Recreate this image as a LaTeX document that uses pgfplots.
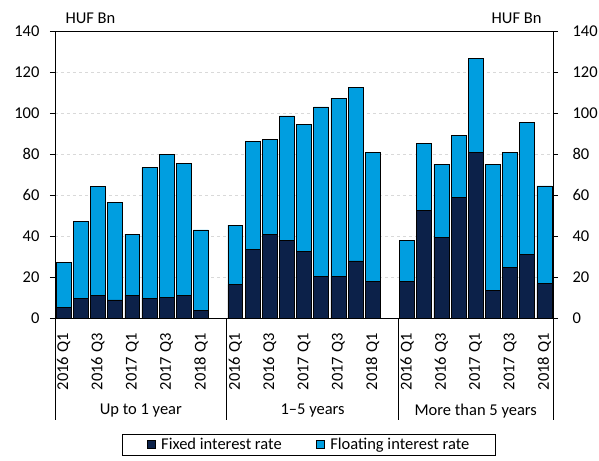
\documentclass[border=0pt]{standalone}
\usepackage{pgfplots}
\usepackage{pgfplotstable}
\pgfplotsset{compat=1.18}
\usepackage{fontspec}
\setmainfont{Carlito}

\definecolor{fixedc}{HTML}{0C2149}
\definecolor{floatc}{HTML}{009EE0}
\definecolor{gridc}{HTML}{D9D9D9}
\newcommand{\lblfont}{\fontsize{16.5}{19}\selectfont}

% Outstanding amounts by remaining maturity, HUF Bn (positions 9 and 19 separate the groups)
\pgfplotstableread{
x  fixed floating
0  5.0  22.0
1  9.7  37.3
2  11.2 52.9
3  8.8  47.5
4  11.2 29.7
5  9.7  63.6
6  10.0 70.0
7  11.2 64.1
8  3.6  39.4
10 16.4 28.9
11 33.6 52.7
12 40.6 46.5
13 38.0 60.6
14 32.3 62.0
15 20.4 82.6
16 20.4 86.7
17 27.9 84.7
18 18.0 62.6
20 17.8 20.0
21 52.6 32.4
22 39.4 35.7
23 58.9 30.2
24 80.8 45.8
25 13.6 61.5
26 24.8 56.0
27 31.2 64.2
28 16.7 47.7
}\datatable

\begin{document}
\begin{tikzpicture}
\path[use as bounding box] (-55pt,-142pt) rectangle (544pt,318pt);
\begin{axis}[
  at={(0,0)}, anchor=south west,
  scale only axis, width=498pt, height=287pt,
  xmin=-0.5, xmax=28.5, ymin=0, ymax=140,
  ybar stacked, bar width=0.87,
  /pgf/number format/assume math mode=true,
  ytick={0,20,...,140},
  ymajorgrids, grid style={gridc, dashed, line width=0.8pt},
  axis line style={black, line width=0.8pt},
  ytick pos=left, tick align=outside, major tick length=5pt,
  y tick style={black, line width=0.8pt},
  yticklabel style={xshift=-7pt},
  xtick={0,2,4,6,8,10,12,14,16,18,20,22,24,26,28},
  xticklabels={2016 Q1,2016 Q3,2017 Q1,2017 Q3,2018 Q1,
               2016 Q1,2016 Q3,2017 Q1,2017 Q3,2018 Q1,
               2016 Q1,2016 Q3,2017 Q1,2017 Q3,2018 Q1},
  x tick style={draw=none},
  xticklabel style={rotate=90, anchor=east},
  xticklabel shift=7pt,
  tick label style={font=\lblfont, text=black},
  clip=false,
  legend columns=2,
  legend style={at={(0.51,-0.403)}, anchor=north, draw=black, line width=0.8pt,
    font=\lblfont, inner xsep=24pt, inner ysep=2pt,
    /tikz/every odd column/.append style={column sep=4pt},
    /tikz/every even column/.append style={column sep=32pt}},
  legend image code/.code={\draw[#1, draw=black, line width=0.6pt] (0pt,-4pt) rectangle (8pt,4pt);},
]
\addplot[fill=fixedc, draw=black, line width=0.6pt] table[x=x, y=fixed] {\datatable};
\addlegendentry{Fixed interest rate}
\addplot[fill=floatc, draw=black, line width=0.6pt] table[x=x, y=floating] {\datatable};
\addlegendentry{Floating interest rate}

% group separators below the axis
\draw[black, line width=0.8pt] (axis cs:-0.5,0) -- ++(0pt,-102pt);
\draw[black, line width=0.8pt] (axis cs:9.5,0) -- ++(0pt,-102pt);
\draw[black, line width=0.8pt] (axis cs:19.5,0) -- ++(0pt,-102pt);
\draw[black, line width=0.8pt] (axis cs:28.5,0) -- ++(0pt,-102pt);
\node[font=\lblfont] at (axis cs:4.5,0) [yshift=-93pt] {Up to 1 year};
\node[font=\lblfont] at (axis cs:14.5,0) [yshift=-93pt] {1–5 years};
\node[font=\lblfont] at (axis cs:24,0) [yshift=-93pt] {More than 5 years};
\node[font=\lblfont, anchor=base west] at (rel axis cs:0,1) [xshift=7pt, yshift=7pt] {HUF Bn};
\node[font=\lblfont, anchor=base east] at (rel axis cs:1,1) [xshift=-8pt, yshift=7pt] {HUF Bn};
\end{axis}
\begin{axis}[
  at={(0,0)}, anchor=south west,
  scale only axis, width=498pt, height=287pt,
  xmin=-0.5, xmax=28.5, ymin=0, ymax=140,
  hide x axis,
  axis y line*=right,
  /pgf/number format/assume math mode=true,
  ytick={0,20,...,140},
  axis line style={black, line width=0.8pt},
  tick align=outside, major tick length=5pt,
  y tick style={black, line width=0.8pt},
  yticklabel style={xshift=11pt},
  tick label style={font=\lblfont, text=black},
]
\addplot[draw=none] coordinates {(0,0)};
\end{axis}
\end{tikzpicture}
\end{document}
